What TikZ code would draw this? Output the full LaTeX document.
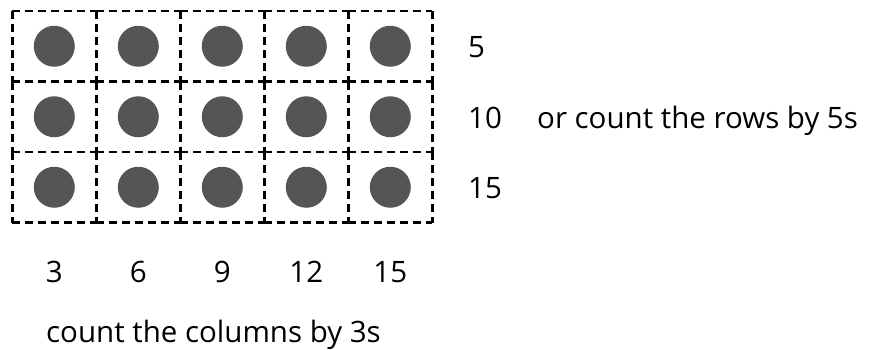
\documentclass[tikz,border=0pt]{standalone}
\usepackage{fontspec}
\setmainfont{Open Sans}
\definecolor{dotgray}{HTML}{555555}
\begin{document}
\begin{tikzpicture}[x=1pt,y=-1pt,
  cell/.style={minimum width=84pt,minimum height=70.5pt,inner sep=0pt,outer sep=0pt},
  edge/.style={line width=2.5pt,dash pattern=on 8pt off 5pt},
  dot/.style={circle,fill=dotgray,minimum size=41pt,inner sep=0pt},
  lab/.style={inner sep=0pt,font=\fontsize{29.5}{35}\selectfont}]
  \useasboundingbox (0,0) rectangle (873,349);

  % 3 rows of 5 counters, one per dashed cell
  \foreach \r in {1,2,3}
    \foreach \c in {1,...,5} {
      \node[cell] (cell-\r-\c) at ({12.3+84*(\c-0.5)},{11+70.5*(\r-0.5)}) {};
      \draw[edge] (cell-\r-\c.north west) -- (cell-\r-\c.north east);
      \draw[edge] (cell-\r-\c.south west) -- (cell-\r-\c.south east);
      \draw[edge] (cell-\r-\c.north west) -- (cell-\r-\c.south west);
      \draw[edge] (cell-\r-\c.north east) -- (cell-\r-\c.south east);
      \node[dot] (dot-\r-\c) at (cell-\r-\c) {};
    }

  % running totals along the columns and down the rows
  \foreach \c/\t in {1/3,2/6,3/9,4/12,5/15}
    \node[lab,anchor=base] (col-\c) at (cell-3-\c.center |- 0,282) {\t};
  \node[lab,anchor=base west] (row-1) at (468,57) {5};
  \node[lab,anchor=base west] (row-2) at (468,128) {10};
  \node[lab,anchor=base west] (row-3) at (468,198.5) {15};
  \node[lab,anchor=base west] (rowtext) at (537,128) {or count the rows by 5s};
  \node[lab,anchor=base west] (coltext) at (46,342) {count the columns by 3s};
\end{tikzpicture}
\end{document}
